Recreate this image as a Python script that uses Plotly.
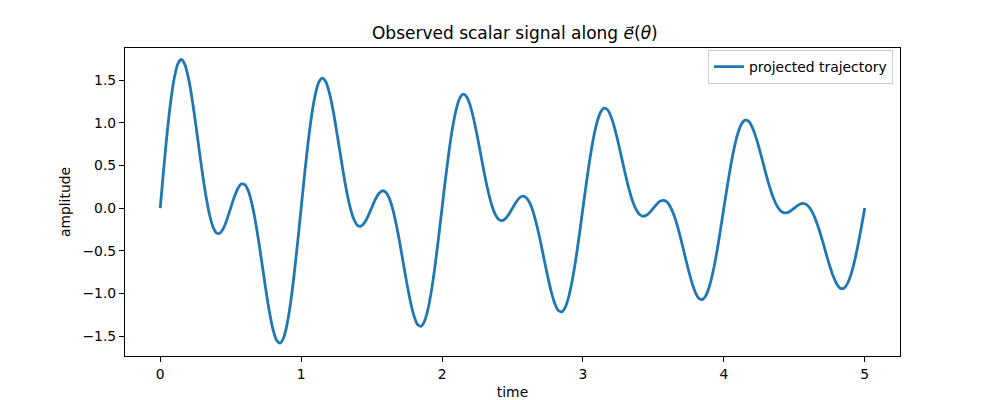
import plotly.graph_objects as go

time = [round(0.025 * i, 3) for i in range(201)]
amplitude = [
    0.000, 0.466, 0.894, 1.256, 1.526, 1.690, 1.740, 1.681, 1.525, 1.292,
    1.007, 0.701, 0.401, 0.135, -0.079, -0.224, -0.294, -0.293, -0.233, -0.127,
    0.000, 0.125, 0.226, 0.281, 0.274, 0.199, 0.055, -0.152, -0.405, -0.683,
    -0.963, -1.217, -1.418, -1.547, -1.584, -1.523, -1.363, -1.112, -0.785, -0.406,
    0.000, 0.403, 0.774, 1.089, 1.326, 1.472, 1.522, 1.479, 1.352, 1.159,
    0.921, 0.662, 0.408, 0.179, -0.006, -0.135, -0.203, -0.213, -0.172, -0.095,
    0.000, 0.094, 0.167, 0.202, 0.187, 0.116, -0.013, -0.192, -0.408, -0.645,
    -0.880, -1.092, -1.258, -1.362, -1.387, -1.329, -1.186, -0.965, -0.681, -0.351,
    0.000, 0.349, 0.672, 0.945, 1.154, 1.285, 1.334, 1.303, 1.200, 1.040,
    0.841, 0.624, 0.407, 0.211, 0.050, -0.066, -0.131, -0.148, -0.124, -0.070,
    0.000, 0.068, 0.120, 0.140, 0.118, 0.051, -0.064, -0.220, -0.405, -0.606,
    -0.804, -0.981, -1.119, -1.201, -1.217, -1.161, -1.034, -0.840, -0.592, -0.305,
    0.000, 0.303, 0.583, 0.822, 1.006, 1.123, 1.171, 1.150, 1.067, 0.936,
    0.769, 0.585, 0.401, 0.233, 0.092, -0.011, -0.073, -0.096, -0.085, -0.049,
    0.000, 0.048, 0.082, 0.090, 0.064, 0.000, -0.103, -0.238, -0.397, -0.568,
    -0.735, -0.883, -0.996, -1.061, -1.070, -1.017, -0.902, -0.732, -0.515, -0.265,
    0.000, 0.264, 0.508, 0.717, 0.879, 0.984, 1.029, 1.017, 0.951, 0.842,
    0.703, 0.548, 0.391, 0.246, 0.124, 0.031, -0.028, -0.055, -0.054, -0.032,
    0.000, 0.031, 0.051, 0.050, 0.021, -0.040, -0.131, -0.249, -0.386, -0.531,
    -0.672, -0.795, -0.888, -0.939, -0.942, -0.892, -0.789, -0.639, -0.449, -0.231,
    0.000,
]
x_ticks = [0, 1, 2, 3, 4, 5]
y_ticks = [-1.5, -1.0, -0.5, 0.0, 0.5, 1.0, 1.5]
y_tick_text = ["\u22121.5", "\u22121.0", "\u22120.5", "0.0", "0.5", "1.0", "1.5"]

FONT = "DejaVu Sans"

fig = go.Figure()
fig.add_trace(go.Scatter(
    x=time, y=amplitude, mode="lines", name="projected trajectory",
    line=dict(color="#1f77b4", width=2.8, shape="spline", smoothing=0.6),
))

axis_common = dict(
    showline=True, linecolor="black", linewidth=1.1, mirror=True,
    showgrid=False, zeroline=False, automargin=False,
    ticks="outside", ticklen=5, tickwidth=1.1, tickcolor="black",
    tickfont=dict(family=FONT, size=13.9, color="black"),
)

fig.update_layout(
    width=1000, height=400,
    margin=dict(l=125, r=100, t=48, b=44),
    paper_bgcolor="white", plot_bgcolor="white",
    font=dict(family=FONT, color="black"),
    title=dict(
        text="Observed scalar signal along <i>e\u20d7</i>(<i>\u03b8</i>)",
        font=dict(family=FONT, size=17, color="black"),
        x=0.503, xanchor="center", xref="paper",
        y=1 - 33 / 400, yanchor="middle", yref="container",
    ),
    xaxis=dict(
        range=[-0.25, 5.25], tickvals=x_ticks, ticktext=[str(v) for v in x_ticks],
        title=dict(text="time", font=dict(family=FONT, size=13.9), standoff=6),
        **axis_common,
    ),
    yaxis=dict(
        range=[-1.734, 1.875], tickvals=y_ticks, ticktext=y_tick_text,
        title=dict(text="amplitude", font=dict(family=FONT, size=13.9), standoff=8),
        **axis_common,
    ),
    showlegend=True,
    legend=dict(
        x=0.991, xanchor="right", y=0.993, yanchor="top",
        bgcolor="rgba(255,255,255,0.8)", bordercolor="#cccccc", borderwidth=1,
        font=dict(family=FONT, size=13.9, color="black"),
    ),
)

fig.write_html("out.html")
